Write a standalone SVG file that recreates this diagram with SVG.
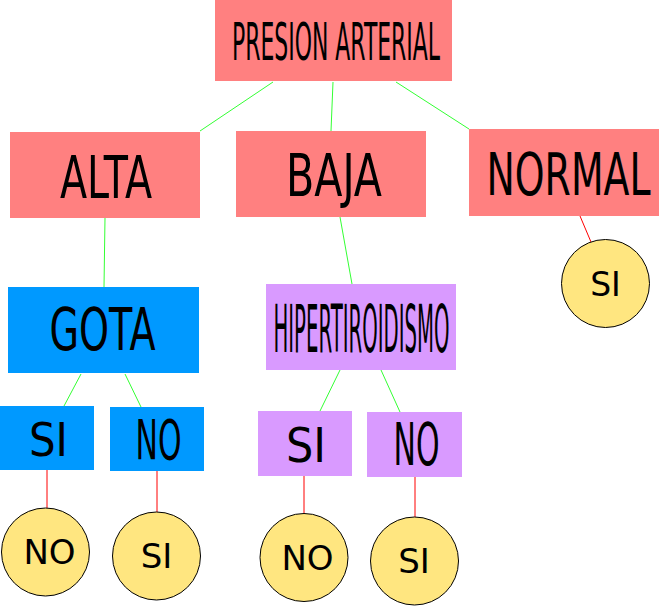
<svg xmlns="http://www.w3.org/2000/svg" width="659" height="606" viewBox="0 0 659 606">
<style>
.red{fill:#ff8080}
.blue{fill:#0099ff}
.pur{fill:#d99aff}
.leaf{fill:#ffe680;stroke:#000;stroke-width:1}
text{font-family:"DejaVu Sans","Liberation Sans",sans-serif;fill:#000;text-anchor:middle}
.g{stroke:#33ff33;stroke-width:1;fill:none}
.r{stroke:#ff0000;stroke-width:1;fill:none}
</style>
<g id="connectors">
<line class="g" x1="273" y1="82" x2="200" y2="131"/>
<line class="g" x1="333" y1="82" x2="331" y2="131"/>
<line class="g" x1="396" y1="82" x2="469" y2="129"/>
<line class="g" x1="105" y1="218" x2="104" y2="287"/>
<line class="g" x1="340" y1="217" x2="352" y2="284"/>
<line class="g" x1="81" y1="374" x2="64" y2="406"/>
<line class="g" x1="125" y1="374" x2="141" y2="407"/>
<line class="g" x1="340" y1="370" x2="320" y2="411"/>
<line class="g" x1="381" y1="370" x2="400" y2="412"/>
<line class="r" x1="580" y1="216" x2="591" y2="242"/>
<line class="r" x1="47" y1="470" x2="47" y2="508"/>
<line class="r" x1="157" y1="471" x2="157" y2="512"/>
<line class="r" x1="304" y1="476" x2="304" y2="513"/>
<line class="r" x1="415" y1="477" x2="415" y2="517"/>
</g>
<g id="presion">
<rect class="red" x="215" y="0" width="237" height="81"/>
<text x="336" y="60" font-size="52" textLength="208" lengthAdjust="spacingAndGlyphs">PRESION ARTERIAL</text>
</g>
<g id="alta">
<rect class="red" x="10" y="132" width="190" height="86"/>
<text x="106" y="198" font-size="59" textLength="92" lengthAdjust="spacingAndGlyphs">ALTA</text>
</g>
<g id="baja">
<rect class="red" x="236" y="131" width="190" height="86"/>
<text x="334" y="196" font-size="59" textLength="96" lengthAdjust="spacingAndGlyphs">BAJA</text>
</g>
<g id="normal">
<rect class="red" x="469" y="129" width="190" height="87"/>
<text x="568.5" y="195" font-size="59" textLength="164" lengthAdjust="spacingAndGlyphs">NORMAL</text>
</g>
<g id="gota">
<rect class="blue" x="8" y="287" width="191" height="86"/>
<text x="102.5" y="350" font-size="58" textLength="106" lengthAdjust="spacingAndGlyphs">GOTA</text>
</g>
<g id="gota-si">
<rect class="blue" x="0" y="406" width="94" height="64"/>
<text x="48.5" y="456" font-size="47" textLength="39" lengthAdjust="spacingAndGlyphs">SI</text>
</g>
<g id="gota-no">
<rect class="blue" x="110" y="407" width="94" height="64"/>
<text x="158.5" y="459" font-size="55" textLength="46" lengthAdjust="spacingAndGlyphs">NO</text>
</g>
<g id="hiper">
<rect class="pur" x="266" y="284" width="190" height="86"/>
<text x="361.5" y="352" font-size="66" textLength="176" lengthAdjust="spacingAndGlyphs">HIPERTIROIDISMO</text>
</g>
<g id="hiper-si">
<rect class="pur" x="258" y="411" width="94" height="65"/>
<text x="306" y="462" font-size="48" textLength="40" lengthAdjust="spacingAndGlyphs">SI</text>
</g>
<g id="hiper-no">
<rect class="pur" x="367" y="412" width="95" height="65"/>
<text x="416.5" y="465" font-size="59" textLength="46" lengthAdjust="spacingAndGlyphs">NO</text>
</g>
<g id="normal-si">
<circle class="leaf" cx="605.5" cy="283.5" r="44"/>
<text x="605.5" y="296" font-size="33">SI</text>
</g>
<g id="gota-si-no">
<circle class="leaf" cx="45.5" cy="552" r="44"/>
<text x="49.5" y="564" font-size="34">NO</text>
</g>
<g id="gota-no-si">
<circle class="leaf" cx="156.5" cy="556" r="44"/>
<text x="156.5" y="568" font-size="34">SI</text>
</g>
<g id="hiper-si-no">
<circle class="leaf" cx="304" cy="557.5" r="44"/>
<text x="307.5" y="570" font-size="34">NO</text>
</g>
<g id="hiper-no-si">
<circle class="leaf" cx="414.5" cy="561" r="44"/>
<text x="414" y="573" font-size="34">SI</text>
</g>
</svg>
